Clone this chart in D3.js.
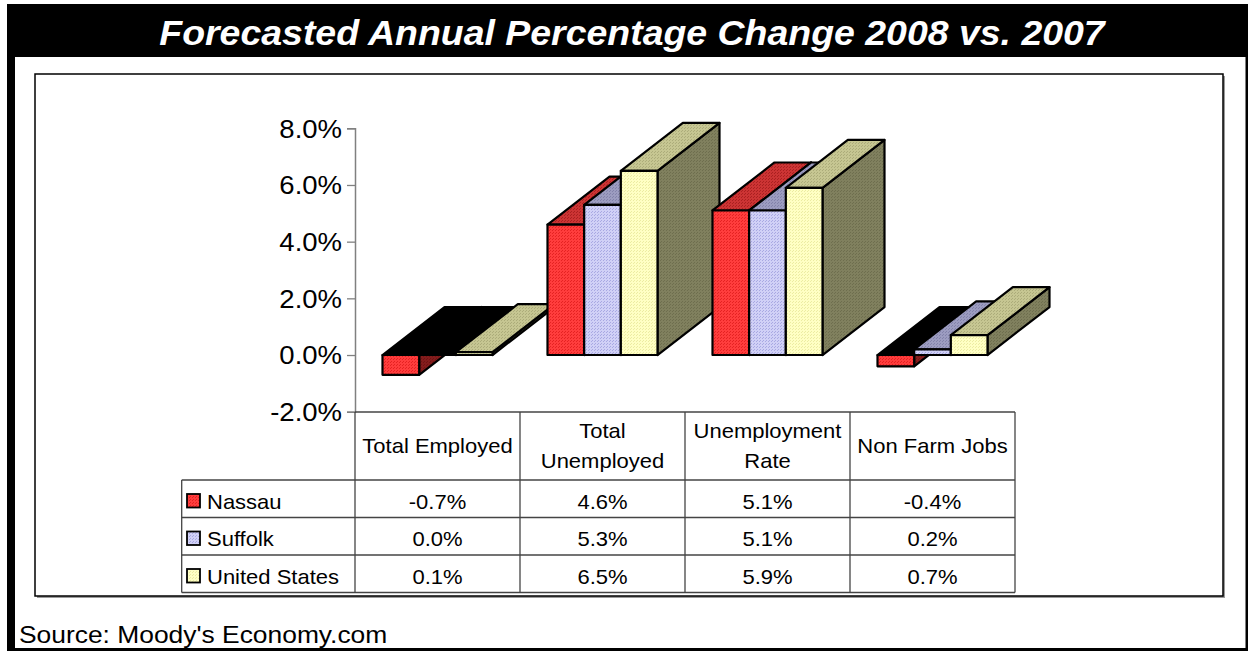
<!DOCTYPE html>
<html>
<head>
<meta charset="utf-8">
<script src="https://cdn.jsdelivr.net/npm/d3@7"></script>
<style>
  html, body { margin: 0; padding: 0; background: #fff; }
  svg { display: block; font-family: "Liberation Sans", Arial, sans-serif; }
</style>
</head>
<body>
<svg id="chart" width="1248" height="651"></svg>
<script>
// ---- data ----
const categories = ["Total Employed", "Total Unemployed", "Unemployment Rate", "Non Farm Jobs"];
const categoryLines = [["Total Employed"], ["Total", "Unemployed"], ["Unemployment", "Rate"], ["Non Farm Jobs"]];
const seriesNames = ["Nassau", "Suffolk", "United States"];
const nassau = [-0.7, 4.6, 5.1, -0.4];
const suffolk = [0.0, 5.3, 5.1, 0.2];
const unitedStates = [0.1, 6.5, 5.9, 0.7];
const yTicks = [-2, 0, 2, 4, 6, 8];
const titleText = "Forecasted Annual Percentage Change 2008 vs. 2007";
const sourceText = "Source: Moody's Economy.com";

const seriesValues = [nassau, suffolk, unitedStates];

// face colours per series: [base, grain] for front, top and side
const faceColours = [
  { front: ["#ff3d3d", "#e52222"], top: ["#cc3434", "#aa2020"], side: ["#841c1c", "#6e1414"] },
  { front: ["#d0d0f6", "#a8a8e2"], top: ["#9c9cc0", "#8282aa"], side: ["#67678a", "#555577"] },
  { front: ["#ffffc4", "#ececa2"], top: ["#c6c692", "#acac7a"], side: ["#80805e", "#6e6e4e"] }
];

const svg = d3.select("#chart");
const textStretch = 1.1;

// ---- grain patterns ----
const defs = svg.append("defs");
faceColours.forEach((c, i) => {
  ["front", "top", "side"].forEach(face => {
    const p = defs.append("pattern")
      .attr("id", `pat-${i}-${face}`)
      .attr("width", 3).attr("height", 3)
      .attr("patternUnits", "userSpaceOnUse");
    p.append("rect").attr("width", 3).attr("height", 3).attr("fill", c[face][0]);
    p.append("rect").attr("x", 1).attr("y", 1).attr("width", 1).attr("height", 1).attr("fill", c[face][1]);
    p.append("rect").attr("x", 0).attr("y", 2).attr("width", 1).attr("height", 1).attr("fill", c[face][1]);
  });
});

// ---- frame ----
svg.append("rect").attr("x", 7).attr("y", 4).attr("width", 1241).attr("height", 53).attr("fill", "#000");
svg.append("rect").attr("x", 7).attr("y", 4).attr("width", 8).attr("height", 647).attr("fill", "#000");
svg.append("rect").attr("x", 7).attr("y", 648).attr("width", 1241).attr("height", 3).attr("fill", "#000");
svg.append("rect").attr("x", 1245.5).attr("y", 4).attr("width", 2.5).attr("height", 647).attr("fill", "#000");

function stretchedText(sel, x, y, txt, anchor, size, extra, sx) {
  const t = sel.append("text")
    .attr("transform", `translate(${x},${y}) scale(${sx || textStretch},1)`)
    .attr("text-anchor", anchor)
    .attr("font-size", size)
    .text(txt);
  if (extra) extra(t);
  return t;
}

stretchedText(svg, 632, 44.5, titleText, "middle", 35, t =>
  t.attr("fill", "#fff").attr("font-weight", "bold").attr("font-style", "italic"), 1.07);

// inner chart box with shadow
svg.append("rect").attr("x", 37).attr("y", 76).attr("width", 1188).attr("height", 522).attr("fill", "#9a9a9a");
svg.append("rect").attr("x", 35).attr("y", 74).attr("width", 1188).attr("height", 522)
  .attr("fill", "#fff").attr("stroke", "#000").attr("stroke-width", 1.5);

stretchedText(svg, 19, 643, sourceText, "start", 24, t => t.attr("fill", "#000"));

// ---- scales ----
const plotLeft = 355, plotRight = 1015;
const y = d3.scaleLinear().domain([-2, 8]).range([411.7, 128.3]);
const xCat = d3.scaleBand().domain(categories).range([plotLeft, plotRight]);
const xSer = d3.scaleBand().domain(seriesNames).range([0, xCat.bandwidth()]).paddingOuter(0.75).paddingInner(0);
const depth = { dx: 62, dy: -48 };

// ---- y axis ----
const yAxis = d3.axisLeft(y).tickValues(yTicks).tickSize(8).tickPadding(0)
  .tickFormat(d => d.toFixed(1) + "%");
const axisG = svg.append("g").attr("transform", `translate(${plotLeft},0)`).call(yAxis);
axisG.select(".domain").attr("stroke", "#808080").attr("stroke-width", 1.5);
axisG.selectAll(".tick line").attr("stroke", "#808080").attr("stroke-width", 1.3);
axisG.selectAll(".tick text")
  .attr("x", null).attr("dy", "0.35em")
  .attr("transform", `translate(-13,0) scale(${textStretch},1)`)
  .attr("font-size", 25).attr("font-family", "Liberation Sans, Arial, sans-serif")
  .attr("fill", "#000").attr("text-anchor", "end");

// ---- 3D bars ----
const barData = [];
categories.forEach((cat, ci) => {
  seriesNames.forEach((s, si) => {
    barData.push({ cat, ci, s, si, v: seriesValues[si][ci] });
  });
});

const barsG = svg.append("g");
const pts = a => a.map(p => p.join(",")).join(" ");
barData.forEach(d => {
  const x0 = xCat(d.cat) + xSer(d.s);
  const w = xSer.bandwidth();
  const yTop = y(Math.max(d.v, 0));
  const yBot = y(Math.min(d.v, 0));
  const { dx, dy } = depth;
  const g = barsG.append("g")
    .attr("stroke", "#000").attr("stroke-width", 2.2).attr("stroke-linejoin", "round");
  // right side face
  g.append("polygon")
    .attr("points", pts([[x0 + w, yTop], [x0 + w + dx, yTop + dy], [x0 + w + dx, yBot + dy], [x0 + w, yBot]]))
    .attr("fill", `url(#pat-${d.si}-side)`);
  // top face (black where the bar sits at or below zero)
  g.append("polygon")
    .attr("points", pts([[x0, yTop], [x0 + w, yTop], [x0 + w + dx, yTop + dy], [x0 + dx, yTop + dy]]))
    .attr("fill", d.v > 0 ? `url(#pat-${d.si}-top)` : "#000");
  // front face
  g.append("rect")
    .attr("x", x0).attr("y", yTop).attr("width", w).attr("height", Math.max(yBot - yTop, 0))
    .attr("fill", `url(#pat-${d.si}-front)`);
});

// ---- data table ----
const tableTop = 412, headerBottom = 480, rowH = 37.5, legendLeft = 181.7;
const tableBottom = headerBottom + rowH * seriesNames.length;
const lineCol = "#444";
const tableG = svg.append("g");

tableG.append("line").attr("x1", plotLeft).attr("x2", plotRight).attr("y1", tableTop).attr("y2", tableTop)
  .attr("stroke", lineCol).attr("stroke-width", 1.3);
for (let r = 0; r <= seriesNames.length; r++) {
  const yy = headerBottom + r * rowH;
  tableG.append("line").attr("x1", legendLeft).attr("x2", plotRight).attr("y1", yy).attr("y2", yy)
    .attr("stroke", lineCol).attr("stroke-width", 1.3);
}
tableG.append("line").attr("x1", legendLeft).attr("x2", legendLeft).attr("y1", headerBottom).attr("y2", tableBottom)
  .attr("stroke", lineCol).attr("stroke-width", 1.3);
categories.forEach(cat => {
  tableG.append("line").attr("x1", xCat(cat)).attr("x2", xCat(cat)).attr("y1", tableTop).attr("y2", tableBottom)
    .attr("stroke", lineCol).attr("stroke-width", 1.3);
});
tableG.append("line").attr("x1", plotRight).attr("x2", plotRight).attr("y1", tableTop).attr("y2", tableBottom)
  .attr("stroke", lineCol).attr("stroke-width", 1.3);

// header labels
categories.forEach((cat, ci) => {
  const cx = xCat(cat) + xCat.bandwidth() / 2;
  const lines = categoryLines[ci];
  const mid = (tableTop + headerBottom) / 2;
  lines.forEach((ln, li) => {
    const base = mid + 7 + (li - (lines.length - 1) / 2) * 30;
    stretchedText(tableG, cx, base, ln, "middle", 20, t => t.attr("fill", "#000"));
  });
});

// rows: legend key + values
seriesNames.forEach((s, si) => {
  const top = headerBottom + si * rowH;
  tableG.append("rect").attr("x", 187).attr("y", top + 14).attr("width", 13).attr("height", 13.5)
    .attr("fill", `url(#pat-${si}-front)`).attr("stroke", "#000").attr("stroke-width", 1.8);
  stretchedText(tableG, 207, top + 28.5, s, "start", 20, t => t.attr("fill", "#000"));
  categories.forEach((cat, ci) => {
    const cx = xCat(cat) + xCat.bandwidth() / 2;
    stretchedText(tableG, cx, top + 28.5, seriesValues[si][ci].toFixed(1) + "%", "middle", 20, t => t.attr("fill", "#000"));
  });
});
</script>
</body>
</html>
